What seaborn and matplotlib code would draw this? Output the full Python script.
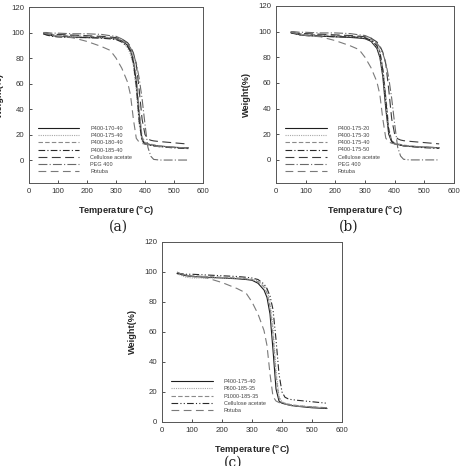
import matplotlib
matplotlib.use("Agg")
import matplotlib.pyplot as plt
import seaborn as sns
import numpy as np

sns.set_style("ticks")
plt.rcParams['font.family'] = ['Liberation Sans', 'DejaVu Sans']
plt.rcParams['mathtext.fontset'] = 'custom'
plt.rcParams['mathtext.rm'] = 'Liberation Sans'
plt.rcParams['mathtext.bf'] = 'Liberation Sans:bold'

# Temperature grid (°C)
T = [50, 60, 80, 100, 150, 200, 250, 280, 300, 320, 340, 350, 360, 370,
     380, 390, 400, 410, 420, 430, 450, 500, 550]

# Shared reference materials
cellulose_acetate = [99, 99, 98.5, 98.5, 98, 97.5, 97, 96.5, 96, 95, 92, 89, 84, 75,
                     55, 32, 20, 16.5, 15.5, 15, 14.5, 13.5, 12.5]
peg400 = [100, 100, 99.5, 99.5, 99, 99, 98.5, 97.5, 97, 95, 91, 88, 83, 76,
          64, 48, 28, 10, 3, 0.5, 0, 0, 0]
rotuba = [100, 99, 98, 97, 96, 93, 89, 86, 80, 72, 61, 51, 32, 17,
          14, 13, 12.5, 12, 11.5, 11, 10.5, 10, 9.5]

# Panel (a)
a_170_40 = [99, 98.5, 97.5, 97, 96.5, 96, 96, 95.5, 95, 93.5, 90, 86, 78, 62,
            35, 16, 13, 12.5, 12, 11.5, 11, 10, 9.5]
a_175_40 = [99.5, 99, 98, 97.5, 97, 96.5, 96, 95.5, 95, 93, 88, 83, 74, 55,
            28, 15, 13, 12.5, 12, 11.5, 11, 10, 9]
a_180_40 = [100, 99.5, 98.5, 98, 97.5, 97, 96.5, 96, 95.5, 94, 91, 87, 80, 66,
            40, 18, 14, 13, 12.5, 12, 11, 10, 9]
a_185_40 = [99, 98, 97, 96.5, 96, 96, 95.5, 95, 94.5, 92.5, 89, 85, 76, 58,
            30, 15, 12.5, 12, 11.5, 11, 10.5, 9.5, 9]

# Panel (b)
b_175_20 = [99.5, 99, 97.5, 97, 96.5, 96, 95.5, 95, 94.5, 92.5, 87, 80, 65, 40,
            20, 14, 12.5, 12, 11.5, 11, 10.5, 10, 9.5]
b_175_30 = [99.5, 99, 98, 97.5, 97, 96.5, 96, 95.5, 95, 93, 88, 82, 68, 44,
            22, 15, 13, 12.5, 12, 11.5, 11, 10, 9.5]
b_175_40 = [100, 99.5, 98.5, 98, 97.5, 97, 96.5, 96, 95.5, 94, 90, 85, 72, 50,
            25, 15, 13, 12.5, 12, 11.5, 11, 10, 9]
b_175_50 = [99, 98.5, 97.5, 97, 96.5, 96, 96, 95.5, 95, 93.5, 89, 84, 70, 47,
            23, 14.5, 12.5, 12, 11.5, 11, 10.5, 9.5, 9]

# Panel (c)
c_p400_175_40 = [99, 98.5, 97.5, 97, 96.5, 96, 95.5, 95, 94.5, 92.5, 88, 83, 72, 48,
                 22, 14, 12.5, 12, 11.5, 11, 10.5, 9.5, 9]
c_p600_185_35 = [99, 98, 96.5, 96, 96, 96, 96, 95.5, 95, 94, 91, 88, 80, 64,
                 35, 17, 13.5, 12.5, 12, 11.5, 11, 10, 9.5]
c_p1000_185_35 = [99.5, 99, 98, 97.5, 97, 96.5, 96, 95.5, 95, 93.5, 90, 86, 77, 58,
                  30, 16, 13, 12.5, 12, 11.5, 11, 10, 9.5]

ST_SOLID = dict(color="#1e1e1e", linestyle="-")
ST_DOT = dict(color="#a8a8a8", linestyle=(0, (1, 1)))
ST_DASH = dict(color="#8a8a8a", linestyle=(0, (4, 2)))
ST_DD = dict(color="#2a2a2a", linestyle=(0, (6, 2, 1, 2)))
ST_LONG = dict(color="#3c3c3c", linestyle=(0, (8, 4)))
ST_PEG = dict(color="#6a6a6a", linestyle=(0, (8, 2, 1, 2)))
ST_ROT = dict(color="#7a7a7a", linestyle=(0, (7, 4)))
ST_DDD = dict(color="#2a2a2a", linestyle=(0, (6, 2, 1, 2, 1, 2)))

panels = [
    dict(rect=(29, 7, 203, 183), ylim=(-18, 120), yticks=[0, 20, 40, 60, 80, 100, 120],
         tag="(a)", tagxy=(118, 227), series=[
            ("P400-170-40", a_170_40, ST_SOLID),
            ("P400-175-40", a_175_40, ST_DOT),
            ("P400-180-40", a_180_40, ST_DASH),
            ("P400-185-40", a_185_40, ST_DD),
            ("Cellulose acetate", cellulose_acetate, ST_LONG),
            ("PEG 400", peg400, ST_PEG),
            ("Rotuba", rotuba, ST_ROT)]),
    dict(rect=(276, 6, 454, 183), ylim=(-18, 120), yticks=[0, 20, 40, 60, 80, 100, 120],
         tag="(b)", tagxy=(349, 227), series=[
            ("P400-175-20", b_175_20, ST_SOLID),
            ("P400-175-30", b_175_30, ST_DOT),
            ("P400-175-40", b_175_40, ST_DASH),
            ("P400-175-50", b_175_50, ST_DD),
            ("Cellulose acetate", cellulose_acetate, ST_LONG),
            ("PEG 400", peg400, ST_PEG),
            ("Rotuba", rotuba, ST_ROT)]),
    dict(rect=(162, 242, 342, 422), ylim=(0, 120), yticks=[0, 20, 40, 60, 80, 100, 120],
         tag="(c)", tagxy=(233, 463), series=[
            ("P400-175-40", c_p400_175_40, ST_SOLID),
            ("P600-185-35", c_p600_185_35, ST_DOT),
            ("P1000-185-35", c_p1000_185_35, ST_DASH),
            ("Cellulose acetate", cellulose_acetate, ST_DDD),
            ("Rotuba", rotuba, ST_ROT)]),
]

W, H = 462, 466
fig = plt.figure(figsize=(W / 100, H / 100), dpi=100)

for p in panels:
    x0, y0, x1, y1 = p["rect"]
    ax = fig.add_axes([x0 / W, 1 - y1 / H, (x1 - x0) / W, (y1 - y0) / H])
    for name, vals, st in p["series"]:
        sns.lineplot(x=T, y=vals, ax=ax, label=name, linewidth=0.8, **st)
    ax.set_xlim(0, 600)
    ax.set_ylim(*p["ylim"])
    ax.set_xticks([0, 100, 200, 300, 400, 500, 600])
    ax.set_yticks(p["yticks"])
    ax.tick_params(labelsize=5.6, length=2, width=0.6, direction="in",
                   colors="#333333", pad=3.5)
    for s in ax.spines.values():
        s.set_linewidth(0.7)
        s.set_color("#555555")
    ax.set_xlabel(r"Temperature ($\mathbf{^{o}}$C)", fontsize=6.6, fontweight="bold",
                  labelpad=6.5)
    ax.set_ylabel("Weight(%)", fontsize=6.6, fontweight="bold", labelpad=5)
    leg = ax.legend(loc="lower left", bbox_to_anchor=(0.05, 0.05), frameon=False,
                    fontsize=4.0, handlelength=7.5, handletextpad=2.0,
                    labelspacing=0.4, borderaxespad=0, borderpad=0)
    for t in leg.get_texts():
        t.set_color("#444444")
    fig.text(p["tagxy"][0] / W, 1 - p["tagxy"][1] / H, p["tag"], ha="center",
             va="center", fontsize=10, family="DejaVu Serif", color="#222222")

fig.savefig("out.png", dpi=100)
